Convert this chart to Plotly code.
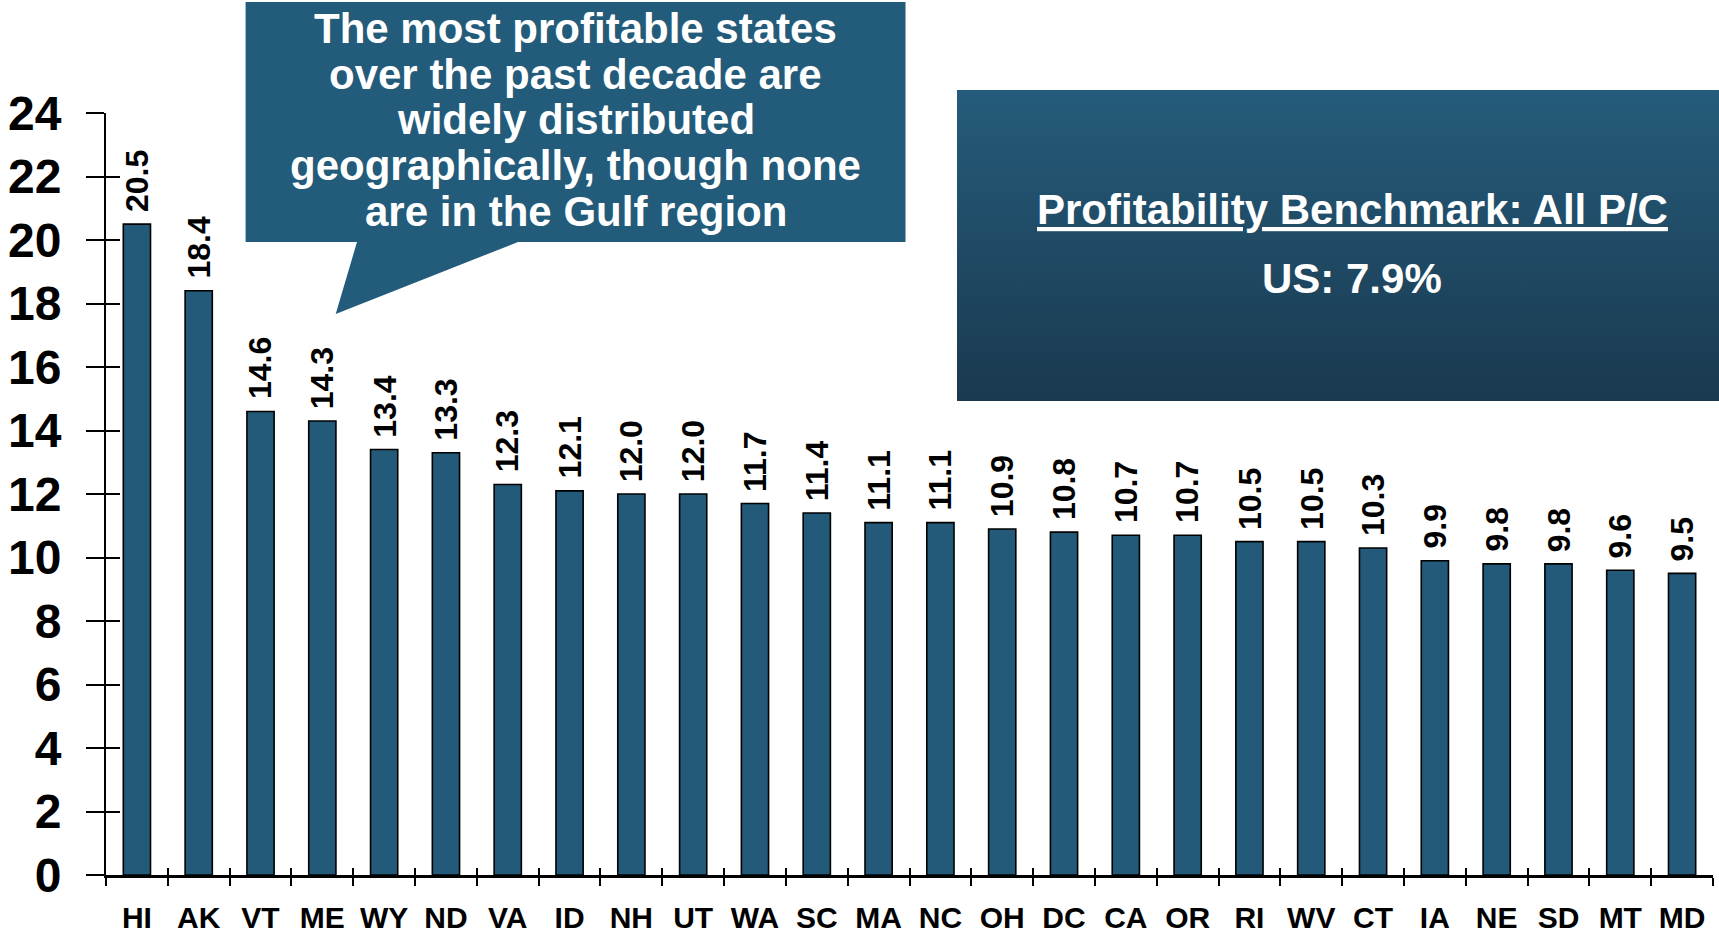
import plotly.graph_objects as go

# ---- data ----
states = ["HI", "AK", "VT", "ME", "WY", "ND", "VA", "ID", "NH", "UT", "WA", "SC", "MA",
          "NC", "OH", "DC", "CA", "OR", "RI", "WV", "CT", "IA", "NE", "SD", "MT", "MD"]
values = [20.5, 18.4, 14.6, 14.3, 13.4, 13.3, 12.3, 12.1, 12.0, 12.0, 11.7, 11.4, 11.1,
          11.1, 10.9, 10.8, 10.7, 10.7, 10.5, 10.5, 10.3, 9.9, 9.8, 9.8, 9.6, 9.5]
y_ticks = list(range(0, 25, 2))
callout_lines = [
    "The most profitable states",
    "over the past decade are",
    "widely distributed",
    "geographically, though none",
    "are in the Gulf region",
]
bench_title = "Profitability Benchmark: All P/C"
bench_value = "US: 7.9%"

# ---- style ----
W, H = 1719, 937
FONT = "Liberation Sans, Arial, sans-serif"
BAR = "#235A79"
BOX = "#235B7A"
GRAD_TOP = "#255C7B"
GRAD_BOT = "#1A394F"

x0px, x1px = 106, 1713
ytop, ybot = 113, 875

fig = go.Figure()

fig.add_trace(go.Bar(
    x=states, y=values, marker=dict(color=BAR, line=dict(color="black", width=1.6)),
    hoverinfo="skip", showlegend=False,
))

# dummy traces for overlay tick axes
fig.add_trace(go.Scatter(x=[], y=[], xaxis="x3", yaxis="y", showlegend=False))
fig.add_trace(go.Scatter(x=[], y=[], xaxis="x", yaxis="y3", showlegend=False))

# gradient benchmark box in pixel coordinate axes
bx0, by0, bx1, by1 = 957, 90, 1719, 401
fig.add_trace(go.Scatter(
    x=[bx0, bx1, bx1, bx0, bx0], y=[by0, by0, by1, by1, by0],
    xaxis="x2", yaxis="y2", mode="lines", line=dict(width=0),
    fill="toself",
    fillgradient=dict(type="vertical", colorscale=[[0, GRAD_BOT], [1, GRAD_TOP]]),
    hoverinfo="skip", showlegend=False,
))

# bar value labels
annotations = []
for s, v in zip(states, values):
    annotations.append(dict(
        x=s, y=v, xref="x", yref="y", text=f"<b>{v:.1f}</b>", textangle=-90,
        showarrow=False, xanchor="center", yanchor="bottom", yshift=10,
        font=dict(family=FONT, size=32, color="black"),
    ))

# callout text
cx = (245.6 + 905.5) / 2
base_y = [28, 74, 119, 165, 211]
for t, yy in zip(callout_lines, base_y):
    annotations.append(dict(
        x=cx, y=yy, xref="x2", yref="y2", text=f"<b>{t}</b>", showarrow=False,
        xanchor="center", yanchor="middle",
        font=dict(family=FONT, size=42, color="white"),
    ))

annotations.append(dict(
    x=1352, y=209, xref="x2", yref="y2", text=f"<b><u>{bench_title}</u></b>", showarrow=False,
    xanchor="center", yanchor="middle", font=dict(family=FONT, size=42, color="white"),
))
annotations.append(dict(
    x=1352, y=278, xref="x2", yref="y2", text=f"<b>{bench_value}</b>", showarrow=False,
    xanchor="center", yanchor="middle", font=dict(family=FONT, size=42, color="white"),
))

callout_path = ("M 245.6,2 L 905.5,2 L 905.5,242 L 518,242 L 335.7,314 "
                "L 357,242 L 245.6,242 Z")
shapes = [dict(type="path", path=callout_path, xref="x2", yref="y2",
               fillcolor=BOX, line=dict(width=0), layer="below")]

xdom = [x0px / W, x1px / W]
ydom = [(H - ybot) / H, (H - ytop) / H]

fig.update_layout(
    template="none",
    width=W, height=H,
    margin=dict(l=0, r=0, t=0, b=0, pad=0, autoexpand=False),
    paper_bgcolor="white", plot_bgcolor="rgba(0,0,0,0)",
    bargap=0.56,
    showlegend=False,
    annotations=annotations,
    shapes=shapes,
    xaxis=dict(
        domain=xdom, type="category", categoryorder="array", categoryarray=states,
        range=[-0.5, len(states) - 0.5], automargin=False,
        showline=True, linecolor="black", linewidth=2.5,
        ticks="outside", tickson="boundaries", ticklen=8, tickwidth=2, tickcolor="black",
        tickfont=dict(family=FONT, size=30, color="black", weight="bold"),
        ticklabelstandoff=14,
        showgrid=False, zeroline=False, anchor="y", fixedrange=True,
    ),
    yaxis=dict(
        domain=ydom, range=[0, 24], tickvals=y_ticks, automargin=False,
        showline=True, linecolor="black", linewidth=2,
        ticks="outside", ticklen=18, tickwidth=2, tickcolor="black",
        tickfont=dict(family=FONT, size=48, color="black", weight="bold"),
        ticklabelstandoff=15,
        showgrid=False, zeroline=False, anchor="x", fixedrange=True,
    ),
    xaxis3=dict(
        overlaying="x", anchor="y", range=[-0.5, len(states) - 0.5], automargin=False,
        tickvals=[i - 0.5 for i in range(len(states) + 1)],
        ticks="inside", ticklen=7, tickwidth=2, tickcolor="black",
        showticklabels=False, showline=False, showgrid=False, zeroline=False,
        fixedrange=True,
    ),
    yaxis3=dict(
        overlaying="y", anchor="x", range=[0, 24], tickvals=y_ticks, side="left",
        automargin=False,
        ticks="inside", ticklen=14, tickwidth=2, tickcolor="black",
        showticklabels=False, showline=False, showgrid=False, zeroline=False,
        fixedrange=True,
    ),
    xaxis2=dict(domain=[0, 1], range=[0, W], visible=False, anchor="y2",
                automargin=False, fixedrange=True),
    yaxis2=dict(domain=[0, 1], range=[H, 0], visible=False, anchor="x2",
                automargin=False, fixedrange=True),
)

fig.write_html("out.html", config={"displayModeBar": False},
               post_script="document.body.style.margin='0';document.body.style.overflow='hidden';")
